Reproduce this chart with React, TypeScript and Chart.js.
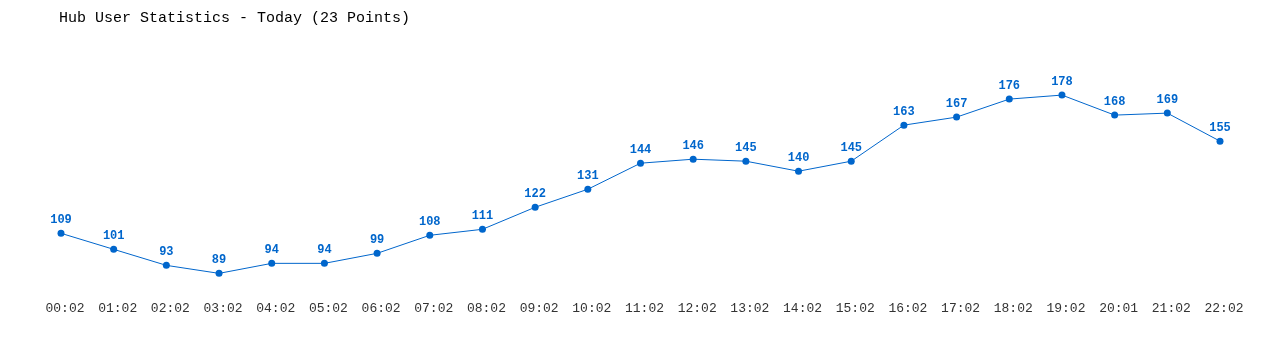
import React, { useEffect, useRef } from "react";
import { Chart, registerables } from "chart.js";

Chart.register(...registerables);

const TITLE = "Hub User Statistics - Today (23 Points)";
const TIME_LABELS = [
  "00:02", "01:02", "02:02", "03:02", "04:02", "05:02", "06:02", "07:02",
  "08:02", "09:02", "10:02", "11:02", "12:02", "13:02", "14:02", "15:02",
  "16:02", "17:02", "18:02", "19:02", "20:01", "21:02", "22:02",
];
const USER_COUNTS = [
  109, 101, 93, 89, 94, 94, 99, 108, 111, 122, 131, 144, 146, 145, 140, 145,
  163, 167, 176, 178, 168, 169, 155,
];

const BLUE = "#0066cc";
const MONO = "'Liberation Mono', 'DejaVu Sans Mono', monospace";

const valueLabels = {
  id: "valueLabels",
  afterDatasetsDraw(chart: any) {
    const ctx = chart.ctx;
    const meta = chart.getDatasetMeta(0);
    const data = chart.data.datasets[0].data;
    ctx.save();
    ctx.font = `bold 12px ${MONO}`;
    ctx.fillStyle = BLUE;
    ctx.textAlign = "center";
    ctx.textBaseline = "middle";
    meta.data.forEach((pt: any, i: number) => {
      ctx.fillText(String(data[i]), pt.x, pt.y - 13);
    });
    ctx.restore();
  },
};

const titlePlugin = {
  id: "leftTitle",
  afterDraw(chart: any) {
    const ctx = chart.ctx;
    ctx.save();
    ctx.font = `15px ${MONO}`;
    ctx.fillStyle = "#000000";
    ctx.textAlign = "left";
    ctx.textBaseline = "middle";
    ctx.fillText(TITLE, 59, 18);
    ctx.restore();
  },
};

export default function App() {
  const ref = useRef<HTMLCanvasElement | null>(null);
  useEffect(() => {
    if (!ref.current) return;
    const chart = new Chart(ref.current, {
      type: "line",
      data: {
        labels: TIME_LABELS,
        datasets: [
          {
            data: USER_COUNTS,
            borderColor: BLUE,
            backgroundColor: BLUE,
            borderWidth: 1,
            pointRadius: 3.5,
            pointBackgroundColor: BLUE,
            pointBorderWidth: 0,
            tension: 0,
          },
        ],
      },
      options: {
        animation: false,
        responsive: false,
        maintainAspectRatio: false,
        layout: { padding: { left: 61, right: 60, top: 40, bottom: 24 } },
        plugins: {
          legend: { display: false },
          tooltip: { enabled: false },
          title: { display: false },
        },
        scales: {
          x: {
            grid: { display: false, drawTicks: false },
            border: { display: false },
            ticks: {
              color: "#333333",
              font: { family: MONO, size: 13 },
              maxRotation: 0,
              autoSkip: false,
              padding: 10,
              labelOffset: 4,
            },
          },
          y: {
            display: false,
            min: 80.5,
            max: 205.5,
          },
        },
      },
      plugins: [valueLabels, titlePlugin],
    });
    return () => chart.destroy();
  }, []);
  return (
    <div style={{ position: "fixed", left: 0, top: 0, width: 1280, height: 350, background: "#fff" }}>
      <canvas ref={ref} width={1280} height={350} style={{ width: 1280, height: 350 }} />
    </div>
  );
}
